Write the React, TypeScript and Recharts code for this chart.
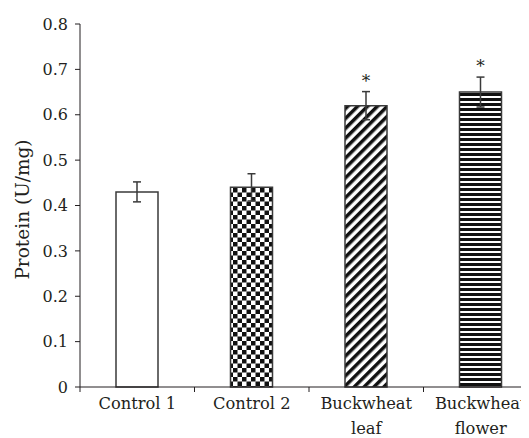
import React from 'react';
import { BarChart, Bar, XAxis, YAxis, Cell, ErrorBar, LabelList } from 'recharts';

const categories = ['Control 1', 'Control 2', 'Buckwheat leaf', 'Buckwheat flower'];
const tickLines = [['Control 1'], ['Control 2'], ['Buckwheat', 'leaf'], ['Buckwheat', 'flower']];
const protein = [0.43, 0.44, 0.62, 0.65];
const sem = [0.022, 0.03, 0.031, 0.033];
const significance = ['', '', '*', '*'];
const yTicks = [0, 0.1, 0.2, 0.3, 0.4, 0.5, 0.6, 0.7, 0.8];

const FONT = '"DejaVu Serif", serif';
const INK = '#231f20';
const fills = ['#ffffff', 'url(#checker)', 'url(#diagonal)', 'url(#hstripe)'];

const W = 540;
const H = 430;
const MARGIN = { top: 16, right: 10, left: 0, bottom: 0 };
const Y_AXIS_W = 72;
const BAND = (W - MARGIN.right - MARGIN.left - Y_AXIS_W) / categories.length;

const data = categories.map((name, i) => ({
  name,
  protein: protein[i],
  sem: sem[i],
  sig: significance[i],
}));

const XTick = (props: any) => {
  const { x, y, index } = props;
  const lines = tickLines[index] || [props.payload?.value];
  return (
    <g>
      <line x1={x - BAND / 2} y1={y} x2={x - BAND / 2} y2={y + 5} stroke={INK} strokeWidth={1} />
      <text x={x} y={y} textAnchor="middle" fill={INK} fontSize={16.3} fontFamily={FONT}>
        {lines.map((l: string, k: number) => (
          <tspan key={k} x={x} dy={k === 0 ? 22 : 25}>{l}</tspan>
        ))}
      </text>
    </g>
  );
};

const Star = (props: any) => {
  const { x, y, width, height, index, value } = props;
  if (!value) return null;
  const errPx = (sem[index] * height) / protein[index];
  return (
    <text x={x + width / 2} y={y - errPx - 5} textAnchor="middle" fill={INK} fontSize={17} fontFamily={FONT}>
      {value}
    </text>
  );
};

const YLabel = (props: any) => {
  const vb = props.viewBox || { x: 0, y: 16, width: 72, height: 363 };
  const cx = 14;
  const cy = vb.y + vb.height / 2 + 4;
  return (
    <text
      x={cx}
      y={cy}
      transform={`rotate(-90, ${cx}, ${cy})`}
      textAnchor="middle"
      dominantBaseline="central"
      fill={INK}
      fontSize={18.5}
      fontFamily={FONT}
    >
      Protein (U/mg)
    </text>
  );
};

export default function App() {
  return (
    <div style={{ width: 521, height: 430, overflow: 'hidden', fontFamily: FONT }}>
      <BarChart width={W} height={H} data={data} margin={MARGIN} style={{ fontFamily: FONT }}>
        <defs>
          <pattern id="checker" patternUnits="userSpaceOnUse" width={9} height={9}>
            <rect width={9} height={9} fill="#fff" />
            <rect x={0} y={0} width={4.5} height={4.5} fill="#111" />
            <rect x={4.5} y={4.5} width={4.5} height={4.5} fill="#111" />
          </pattern>
          <pattern id="diagonal" patternUnits="userSpaceOnUse" width={7} height={7} patternTransform="rotate(45)">
            <rect width={7} height={7} fill="#fff" />
            <rect x={0} y={0} width={3.5} height={7} fill="#111" />
          </pattern>
          <pattern id="hstripe" patternUnits="userSpaceOnUse" width={5} height={5}>
            <rect width={5} height={5} fill="#fff" />
            <rect x={0} y={0} width={5} height={3} fill="#111" />
          </pattern>
        </defs>
        <XAxis
          dataKey="name"
          axisLine={{ stroke: INK, strokeWidth: 1 }}
          tickLine={false}
          tickSize={0}
          tickMargin={0}
          height={51}
          interval={0}
          tick={<XTick />}
        />
        <YAxis
          width={Y_AXIS_W}
          domain={[0, 0.8]}
          ticks={yTicks}
          interval={0}
          axisLine={{ stroke: INK, strokeWidth: 1 }}
          tickLine={{ stroke: INK, strokeWidth: 1 }}
          tickSize={5}
          tickMargin={7}
          tick={{ fill: INK, fontSize: 16, fontFamily: FONT }}
          label={<YLabel />}
        />
        <Bar dataKey="protein" barSize={42} stroke="#3a3a3a" strokeWidth={1.5} isAnimationActive={false}>
          {data.map((d, i) => (
            <Cell key={d.name} fill={fills[i]} />
          ))}
          <ErrorBar dataKey="sem" width={4} stroke="#3a3a3a" strokeWidth={1.5} direction="y" />
          <LabelList dataKey="sig" content={<Star />} />
        </Bar>
      </BarChart>
    </div>
  );
}
